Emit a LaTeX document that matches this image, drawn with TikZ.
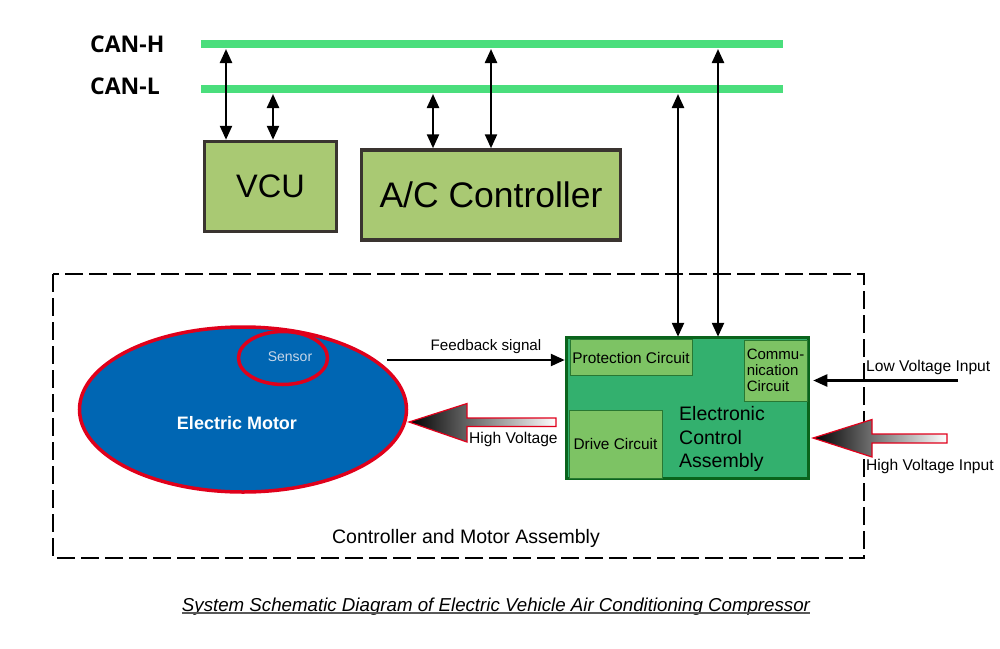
\documentclass[tikz,border=0pt]{standalone}
\usepackage{fontspec}
\setmainfont{Liberation Sans}
\newfontfamily\canfont{Open Sans}
\usetikzlibrary{arrows.meta,shapes.geometric}
\definecolor{bus}{RGB}{74,222,124}
\definecolor{boxfill}{RGB}{169,201,115}
\definecolor{boxdraw}{RGB}{58,52,48}
\definecolor{motor}{RGB}{0,102,179}
\definecolor{motorred}{RGB}{224,0,27}
\definecolor{ecafill}{RGB}{51,176,110}
\definecolor{ecadraw}{RGB}{10,100,28}
\definecolor{subfill}{RGB}{125,195,100}
\definecolor{subdraw}{RGB}{40,120,50}
\definecolor{sensortxt}{RGB}{200,215,232}
\newcommand{\fs}[1]{\fontsize{#1}{#1}\selectfont}
\tikzset{
  busline/.style={bus, line width=8pt},
  ctrlbox/.style={draw=boxdraw, fill=boxfill, line width=3.5pt, inner sep=0pt},
  subbox/.style={draw=subdraw, fill=subfill, line width=1pt, inner sep=0pt},
  dbl/.style={line width=2.4pt, {Triangle[length=14pt,width=12pt]}-{Triangle[length=14pt,width=12pt]}},
  sgl/.style={line width=2.4pt, -{Triangle[length=14pt,width=12pt]}},
  fat/.style={left color=black, right color=white, draw=motorred, line width=1.2pt},
  lbl/.style={inner sep=0pt, font=\fs{15.6}},
}
\begin{document}
\begin{tikzpicture}[x=1pt,y=-1pt]
\useasboundingbox (0,0) rectangle (1000,648);
% buses
\draw[busline] (201,44) coordinate (hL) -- (783,44) coordinate (hR);
\draw[busline] (201,89) coordinate (lL) -- (783,89) coordinate (lR);
\node[anchor=west, inner sep=0pt, font=\canfont\bfseries\fs{23}] (canh) at (90,44) {CAN-H};
\node[anchor=west, inner sep=0pt, font=\canfont\bfseries\fs{23}] (canl) at (90,86) {CAN-L};
% boxes
\node[ctrlbox, minimum width=132pt, minimum height=90pt, font=\fs{32.5}] (vcu) at (270.5,186.5) {VCU};
\node[ctrlbox, minimum width=259pt, minimum height=90pt, font=\fs{35.5}] (ac) at (491,195) {A/C Controller};
% dashed assembly
\draw[line width=2.8pt, dash pattern=on 18pt off 6pt] (53,274) rectangle (864,558);
\node[inner sep=0pt, font=\fs{19.5}] (cma) at (466,538) {Controller and Motor Assembly};
% motor
\node[ellipse, draw=motorred, fill=motor, line width=3.5pt, minimum width=327pt, minimum height=165pt, inner sep=0pt] (motor) at (243,409.5) {};
\node[ellipse, draw=motorred, line width=3.5pt, minimum width=89pt, minimum height=53pt, inner sep=0pt] (sensor) at (283,358) {};
\node[inner sep=0pt, text=sensortxt, font=\fs{14}] (sensortext) at (290,357) {Sensor};
\node[inner sep=0pt, text=white, font=\bfseries\fs{18}] (emtext) at (237,423) {Electric Motor};
% ECA
\node[draw=ecadraw, fill=ecafill, line width=3.5pt, minimum width=242pt, minimum height=141pt, inner sep=0pt] (eca) at (687.5,408) {};
\node[subbox, minimum width=122pt, minimum height=36pt, font=\fs{15.4}] (prot) at (631,357.5) {Protection Circuit};
\node[subbox, minimum width=63pt, minimum height=61pt, font=\fontsize{15}{16}\selectfont, align=left] (comm) at (775.5,370.5) {Commu-\\nication\\Circuit};
\node[subbox, minimum width=93pt, minimum height=68pt, font=\fs{15.4}] (drive) at (615.5,444) {Drive Circuit};
\node[anchor=west, inner sep=0pt, align=left, font=\fs{19.5}] (ecatext) at (679,439) {Electronic\\[4pt]Control\\[4pt]Assembly};
% CAN connections
\coordinate (a1) at (226,49);
\coordinate (a2) at (273,94);
\coordinate (a3) at (433,94);
\coordinate (a4) at (491,49);
\coordinate (a5) at (678,94);
\coordinate (a6) at (718,49);
\draw[dbl] (a1) -- (vcu.north -| a1);
\draw[dbl] (a2) -- (vcu.north -| a2);
\draw[dbl] (a3) -- (ac.north -| a3);
\draw[dbl] (a4) -- (ac.north -| a4);
\draw[dbl] (a5) -- ([yshift=-1pt]eca.north -| a5);
\draw[dbl] (a6) -- ([yshift=-1pt]eca.north -| a6);
% feedback
\coordinate (fb) at (387,360);
\draw[sgl] (fb) -- (fb -| eca.west);
\node[lbl, anchor=south, font=\fs{15.2}] (fbl) at (486,354) {Feedback signal};
% low voltage
\coordinate (lv) at (958,380.5);
\draw[sgl] (lv) -- ([xshift=3pt]lv -| eca.east);
\node[lbl, anchor=west] (lvl) at (866,367) {Low Voltage Input};
% high voltage input fat arrow
\path[fat] (813,438) -- (872,419.5) -- (872,434) -- (947,434) -- (947,443) -- (872,443) -- (872,457) -- cycle;
\node[lbl, anchor=west] (hvil) at (866,466) {High Voltage Input};
% high voltage to motor
\path[fat] (409,422) -- (467,403.5) -- (467,418) -- (556,418) -- (556,426.5) -- (467,426.5) -- (467,442) -- cycle;
\node[lbl, anchor=west] (hvl) at (469,439) {High Voltage};
% caption
\node[inner sep=0pt, font=\itshape\fs{18.7}] (cap) at (496,607) {System Schematic Diagram of Electric Vehicle Air Conditioning Compressor};
\draw[gray!70!black, line width=1.3pt] ([yshift=3pt]cap.south west) -- ([yshift=3pt]cap.south east);
\end{tikzpicture}
\end{document}
